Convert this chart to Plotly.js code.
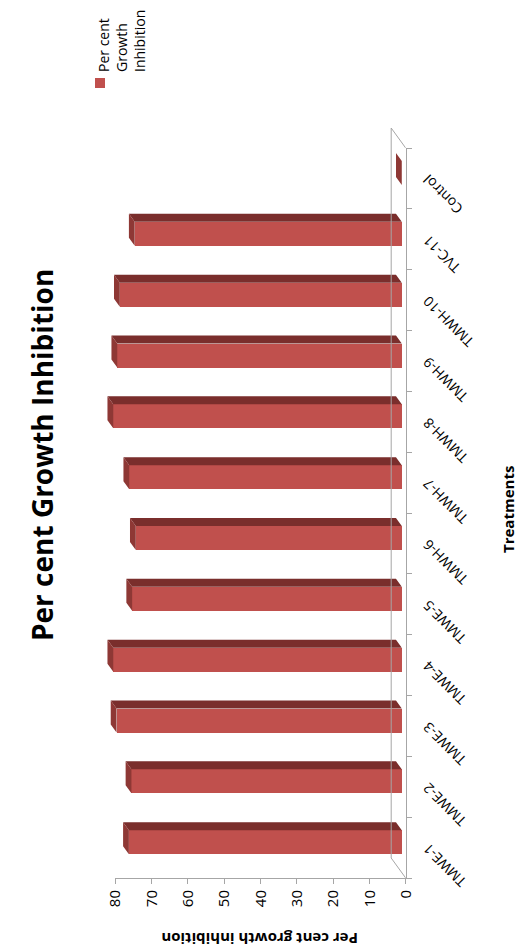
<!DOCTYPE html>
<html>
<head>
<meta charset="utf-8">
<script src="https://cdn.plot.ly/plotly-3.0.1.min.js"></script>
<style>
html, body { margin: 0; padding: 0; background: #ffffff; overflow: hidden; }
#page { position: relative; width: 518px; height: 952px; overflow: hidden; background: #ffffff; }
#chart { position: absolute; left: 0; top: 0; width: 952px; height: 518px;
         transform-origin: 0 0; transform: rotate(-90deg) translateX(-952px); }
</style>
</head>
<body>
<div id="page"><div id="chart"></div></div>
<script>
// ---- data ----
const categories = ['TMWE-1', 'TMWE-2', 'TMWE-3', 'TMWE-4', 'TMWE-5', 'TMWH-6',
                    'TMWH-7', 'TMWH-8', 'TMWH-9', 'TMWH-10', 'TVC-11', 'Control'];
const inhibition = [75.1, 74.4, 78.5, 79.4, 74.2, 73.2, 75.0, 79.4, 78.3, 77.6, 73.5, 0];
const valueTicks = [0, 10, 20, 30, 40, 50, 60, 70, 80];
const seriesName = 'Per cent Growth Inhibition';
const chartTitle = 'Per cent Growth Inhibition';
const valueAxisTitle = 'Per cent growth inhibition';
const categoryAxisTitle = 'Treatments';

// ---- geometry (chart drawn unrotated at 952x518, then page-rotated) ----
const W = 952, H = 518;
const frontLeft = 74, frontRight = 804, frontBottom = 405.7, frontTop = 115;
const mainRight = 870, mainTop = 88;
const nCat = categories.length;
const vMax = valueTicks[valueTicks.length - 1];
const pxPerCat = (frontRight - frontLeft) / nCat;
const pxPerVal = (frontBottom - frontTop) / vMax;
const Dx = 20 / pxPerCat;      // floor depth (category units)
const Dy = 14.5 / pxPerVal;    // floor depth (value units)
const hw = 12 / pxPerCat;      // half bar width
const f0 = 0.27, f1 = 0.67;    // bar front / back depth fractions

const frontColor = '#C0504D', topColor = '#8E3835', sideColor = '#7A2E2C';
const axisGrey = '#A6A6A6';
const fontFam = '"Open Sans", "Liberation Sans", sans-serif';

const idx = categories.map((c, i) => i);
function P(x, v, f) { return [x + f * Dx, v + f * Dy]; }

const topX = [], topY = [], sideX = [], sideY = [];
idx.forEach(i => {
  const v = inhibition[i];
  const t = [P(i - hw, v, f0), P(i + hw, v, f0), P(i + hw, v, f1), P(i - hw, v, f1), P(i - hw, v, f0)];
  t.forEach(p => { topX.push(p[0]); topY.push(p[1]); });
  topX.push(null); topY.push(null);
  const s = [P(i + hw, 0, f0), P(i + hw, 0, f1), P(i + hw, v, f1), P(i + hw, v, f0), P(i + hw, 0, f0)];
  s.forEach(p => { sideX.push(p[0]); sideY.push(p[1]); });
  sideX.push(null); sideY.push(null);
});

const traces = [
  { type: 'scatter', x: sideX, y: sideY, mode: 'lines', fill: 'toself', fillcolor: sideColor,
    line: { width: 0, color: sideColor }, hoverinfo: 'skip', showlegend: false, xaxis: 'x', yaxis: 'y' },
  { type: 'scatter', x: topX, y: topY, mode: 'lines', fill: 'toself', fillcolor: topColor,
    line: { width: 0, color: topColor }, hoverinfo: 'skip', showlegend: false, xaxis: 'x', yaxis: 'y' },
  { type: 'bar', name: seriesName, x: idx.map(i => i + f0 * Dx), y: inhibition,
    base: inhibition.map(() => f0 * Dy), width: 2 * hw,
    marker: { color: frontColor, line: { width: 0 } }, showlegend: false, xaxis: 'x', yaxis: 'y' },
  { type: 'scatter', x: categories, y: inhibition, mode: 'markers', marker: { opacity: 0, size: 1 },
    hoverinfo: 'skip', showlegend: false, xaxis: 'x2', yaxis: 'y2' }
];

const floorBackY = Dy;
const shapes = [
  { type: 'line', xref: 'x', yref: 'y', x0: -0.5 + Dx, y0: floorBackY, x1: nCat - 0.5 + Dx, y1: floorBackY,
    line: { color: axisGrey, width: 1 } },
  { type: 'line', xref: 'x', yref: 'y', x0: -0.5, y0: 0, x1: -0.5 + Dx, y1: floorBackY,
    line: { color: axisGrey, width: 1 } },
  { type: 'line', xref: 'x', yref: 'y', x0: nCat - 0.5, y0: 0, x1: nCat - 0.5 + Dx, y1: floorBackY,
    line: { color: axisGrey, width: 1 } },
  // legend swatch
  { type: 'rect', xref: 'paper', yref: 'paper', x0: 864 / W, x1: 874 / W, y0: (H - 105) / H, y1: (H - 95) / H,
    fillcolor: frontColor, line: { width: 0 } }
];

const annotations = [
  { xref: 'paper', yref: 'paper', x: 497 / W, y: (H - 42) / H, xanchor: 'center', yanchor: 'middle',
    text: '<b>' + chartTitle + '</b>', showarrow: false, font: { family: fontFam, size: 28, color: '#000' } },
  { xref: 'paper', yref: 'paper', x: 13 / W, y: (H - 260) / H, xanchor: 'center', yanchor: 'middle',
    textangle: -90, text: '<b>' + valueAxisTitle + '</b>', showarrow: false,
    font: { family: fontFam, size: 15, color: '#000' } },
  { xref: 'paper', yref: 'paper', x: 442 / W, y: (H - 508) / H, xanchor: 'center', yanchor: 'middle',
    text: '<b>' + categoryAxisTitle + '</b>', showarrow: false, font: { family: fontFam, size: 15, color: '#000' } },
  { xref: 'paper', yref: 'paper', x: 878 / W, y: (H - 92) / H, xanchor: 'left', yanchor: 'top', align: 'left',
    text: seriesName.replace('Per cent ', 'Per cent<br>').replace('Growth ', 'Growth<br>'), showarrow: false,
    font: { family: fontFam, size: 14, color: '#000' } }
];

const layout = {
  width: W, height: H,
  margin: { l: 0, r: 0, t: 0, b: 0 },
  paper_bgcolor: '#ffffff', plot_bgcolor: 'rgba(0,0,0,0)',
  showlegend: false,
  bargap: 0,
  xaxis: { domain: [frontLeft / W, mainRight / W], range: [-0.5, -0.5 + (mainRight - frontLeft) / pxPerCat],
           visible: false, fixedrange: true },
  yaxis: { domain: [(H - frontBottom) / H, (H - mainTop) / H], range: [0, (frontBottom - mainTop) / pxPerVal],
           visible: false, fixedrange: true },
  xaxis2: { domain: [frontLeft / W, frontRight / W], anchor: 'y2', type: 'category',
            categoryorder: 'array', categoryarray: categories, range: [-0.5, nCat - 0.5],
            tickson: 'boundaries', ticks: 'outside', ticklen: 5, tickcolor: axisGrey,
            ticklabelstandoff: 8,
            showline: true, linecolor: axisGrey, linewidth: 1, showgrid: false, zeroline: false,
            tickangle: -45, tickfont: { family: fontFam, size: 14, color: '#000' }, fixedrange: true },
  yaxis2: { domain: [(H - frontBottom) / H, (H - frontTop) / H], anchor: 'x2', range: [0, vMax],
            tickvals: valueTicks, ticks: 'outside', ticklen: 5, tickcolor: axisGrey,
            ticklabelstandoff: 3,
            showline: true, linecolor: axisGrey, linewidth: 1, showgrid: false, zeroline: false,
            tickfont: { family: fontFam, size: 15, color: '#000' }, fixedrange: true },
  shapes: shapes,
  annotations: annotations
};

Plotly.newPlot('chart', traces, layout, { staticPlot: true, displayModeBar: false });
</script>
</body>
</html>
